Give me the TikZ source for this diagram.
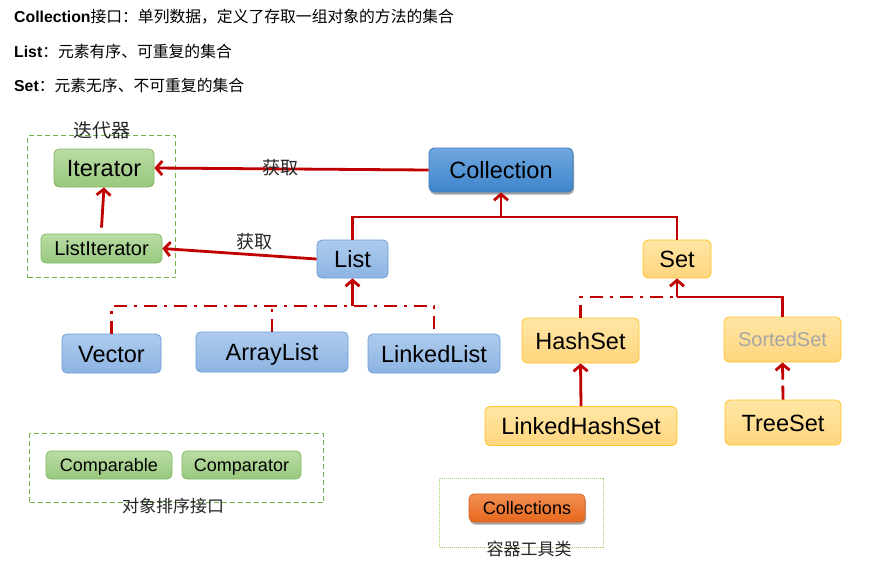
\documentclass[tikz,border=0pt]{standalone}
\usepackage{fontspec}
\setmainfont{Liberation Sans}
\newfontfamily\cjk{Noto Sans CJK SC}
\usetikzlibrary{arrows.meta,shadows}
\definecolor{myred}{RGB}{192,0,0}
\definecolor{grT}{RGB}{186,220,165}
\definecolor{grB}{RGB}{152,200,125}
\definecolor{grD}{RGB}{128,183,98}
\definecolor{buT}{RGB}{112,168,222}
\definecolor{buB}{RGB}{62,133,204}
\definecolor{buD}{RGB}{62,120,185}
\definecolor{lbT}{RGB}{174,203,237}
\definecolor{lbB}{RGB}{140,180,226}
\definecolor{lbD}{RGB}{108,158,214}
\definecolor{yeT}{RGB}{255,230,165}
\definecolor{yeB}{RGB}{255,213,125}
\definecolor{yeD}{RGB}{255,196,40}
\definecolor{orT}{RGB}{243,142,82}
\definecolor{orB}{RGB}{230,104,28}
\definecolor{orD}{RGB}{215,100,35}
\definecolor{gbox}{RGB}{110,180,75}
\definecolor{gdot}{RGB}{160,210,110}
\begin{document}
\begin{tikzpicture}[x=1pt,y=-1pt,
  box/.style={draw, rounded corners=5pt, inner sep=0pt, line width=0.8pt, text=black,
    text height=17pt, text depth=0pt,
    font=\fontsize{23.5}{23.5}\selectfont},
  mid/.style={font=\fontsize{20}{20}\selectfont, text height=14.4pt},
  small/.style={font=\fontsize{18}{18}\selectfont, text height=13pt},
  greenbox/.style={box, draw=grD, top color=grT, bottom color=grB},
  bluebox/.style={box, draw=buD, top color=buT, bottom color=buB,
    drop shadow={shadow xshift=1pt, shadow yshift=-2.5pt, opacity=0.35, fill=black}},
  lbbox/.style={box, draw=lbD, top color=lbT, bottom color=lbB},
  yebox/.style={box, draw=yeD, top color=yeT, bottom color=yeB},
  orbox/.style={box, draw=orD, top color=orT, bottom color=orB,
    drop shadow={shadow xshift=1pt, shadow yshift=-2.5pt, opacity=0.35, fill=black}},
  grpdash/.style={draw=gbox, dash pattern=on 5pt off 3pt, line width=1.1pt, inner sep=0pt},
  grpdot/.style={draw=gdot, dash pattern=on 1pt off 1pt, line width=1.1pt, inner sep=0pt},
  hdr/.style={anchor=west, inner sep=0pt, font=\fontsize{15.8}{15.8}\selectfont},
  cjklabel/.style={inner sep=0pt, text=black!85, font=\cjk\fontsize{17}{17}\selectfont},
  rline/.style={draw=myred, line width=2.8pt},
  rarrow/.style={rline, -{Straight Barb[length=6pt,width=14pt]}},
  rdash/.style={rline, dash pattern=on 13pt off 7pt on 3pt off 7pt},
  rdasharrow/.style={rarrow, dash pattern=on 14pt off 6pt}
]
\useasboundingbox[fill=white] (0,0) rectangle (869,560);

% header texts
\node[hdr] (h1) at (14,16.5) {\textbf{Collection}\cjk 接口：单列数据，定义了存取一组对象的方法的集合};
\node[hdr] (h2) at (14,51) {\textbf{List}\cjk ：元素有序、可重复的集合};
\node[hdr] (h3) at (14,85) {\textbf{Set}\cjk ：元素无序、不可重复的集合};

% group boxes
\node[grpdash, minimum width=148pt, minimum height=142pt] (itgroup) at (101.5,206.5) {};
\node[cjklabel, font=\cjk\fontsize{19}{19}\selectfont] (itlabel) at (102,130) {迭代器};
\node[grpdash, minimum width=294pt, minimum height=69pt] (cmpgroup) at (176.5,468) {};
\node[cjklabel] (cmplabel) at (173,506) {对象排序接口};
\node[grpdot, minimum width=164pt, minimum height=69pt] (toolgroup) at (521.5,513) {};
\node[cjklabel] (toollabel) at (529,549) {容器工具类};

% nodes
\node[greenbox, minimum width=100pt, minimum height=38pt] (iter) at (104,168) {Iterator};
\node[greenbox, mid, minimum width=121pt, minimum height=29pt] (listit) at (101.5,248.5) {ListIterator};
\node[bluebox, minimum width=144pt, minimum height=44pt] (coll) at (501,170) {Collection};
\node[lbbox, minimum width=71pt, minimum height=38pt] (list) at (352.5,259) {List};
\node[yebox, minimum width=68pt, minimum height=38pt] (set) at (677,259) {Set};
\node[lbbox, minimum width=99pt, minimum height=39pt] (vector) at (111.5,353.5) {Vector};
\node[lbbox, minimum width=152pt, minimum height=40pt] (alist) at (272,352) {ArrayList};
\node[lbbox, minimum width=132pt, minimum height=39pt] (llist) at (434,353.5) {LinkedList};
\node[yebox, minimum width=117pt, minimum height=45pt] (hset) at (580.5,340.5) {HashSet};
\node[yebox, mid, minimum width=117pt, minimum height=45pt, text=black!35] (sset) at (782.5,339.5) {SortedSet};
\node[yebox, minimum width=192pt, minimum height=39pt] (lhset) at (581,426) {LinkedHashSet};
\node[yebox, minimum width=116pt, minimum height=45pt] (tset) at (783,422.5) {TreeSet};
\node[greenbox, small, minimum width=126pt, minimum height=28pt] (cmpable) at (109,465) {Comparable};
\node[greenbox, small, minimum width=119pt, minimum height=28pt] (cmptor) at (241.5,465) {Comparator};
\node[orbox, small, minimum width=116pt, minimum height=28pt] (colls) at (527,508) {Collections};

% junction coordinates
\coordinate (jc) at (501,217);
\coordinate (hy) at (0,306);
\coordinate (sy) at (0,297);

% connectors
\draw[rarrow] (coll.west) -- (iter.east);
\node[cjklabel, font=\cjk\fontsize{18}{18}\selectfont] (get1) at (280,168) {获取};
\draw[rarrow] (list.west) -- (listit.east);
\node[cjklabel, font=\cjk\fontsize{18}{18}\selectfont] (get2) at (254,242) {获取};
\draw[rarrow] ([yshift=6pt]listit.north) -- (iter.south);

\draw[rline] (list.north) |- (jc) -| (set.north);
\draw[rarrow] (jc) -- (coll.south);

\draw[rdash] (vector.north) -- (vector.north |- hy) -- (llist.north |- hy) -- (llist.north);
\draw[rdash] (alist.north) -- (alist.north |- hy);
\draw[rarrow] (list.south |- hy) -- (list.south);

\draw[rdash] (hset.north) -- (hset.north |- sy) -- (set.south |- sy);
\draw[rline] (set.south |- sy) -| (sset.north);
\draw[rarrow] (set.south |- sy) -- (set.south);
\draw[rarrow] (lhset.north) -- (hset.south);
\draw[rdasharrow] (tset.north) -- (sset.south);
\end{tikzpicture}
\end{document}
